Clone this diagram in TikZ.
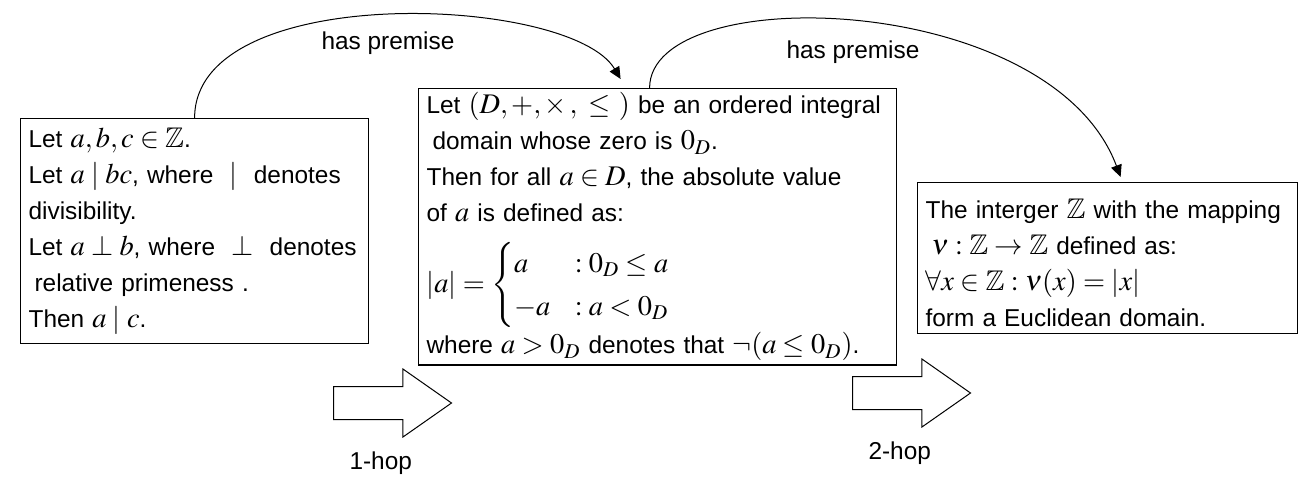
\documentclass[tikz,border=0pt]{standalone}
\usepackage{amsmath}
\usepackage{amssymb}
\usepackage{mathptmx}
\usepackage[no-math]{fontspec}
\setmainfont{Liberation Sans}
\usetikzlibrary{arrows.meta,positioning,shapes.arrows}
\DeclareMathSizes{12.2}{14.2}{10.5}{8}

\begin{document}
\begin{tikzpicture}[
  x=0.5pt, y=-0.5pt,
  box/.style={draw, line width=0.6pt, anchor=north west, align=left, font=\fontsize{12.2}{18}\selectfont, inner xsep=4pt, inner ysep=2pt},
  lab/.style={font=\fontsize{12.2}{14}\selectfont},
  arr/.style={-{Triangle[length=6pt, width=5.5pt]}, line width=0.5pt},
  hop/.style={draw, line width=0.5pt, single arrow, anchor=tail, single arrow head extend=8.75pt, single arrow tip angle=70, minimum height=59pt, inner xsep=0pt, inner ysep=8pt}]
  \useasboundingbox (0,0) rectangle (1314,484);
  % statements
  \node[box, text width=166pt, minimum height=112.5pt] (lemma) at (20,118) {Let $a,b,c \in \mathbb{Z}$.\\
    Let $a \mid bc$, where \ $\mid$ \ denotes\\
    divisibility.\\
    Let $a \perp b$, where \ $\perp$ \ denotes\\
    \hspace*{3pt}relative primeness .\\
    Then $a \mid c$.};
  \node[box, text width=231pt, minimum height=134pt] (absval) at (418,88) {Let $(D,+,\times\,,\ \leq\ )$ be an ordered integral\\
    \hspace*{3pt}domain whose zero is $0_D$.\\
    Then for all $a \in D$, the absolute value\\
    of $a$ is defined as:\\[9pt]
    $|a| = \begin{cases} a & : 0_D \leq a\\ -a & : a < 0_D \end{cases}$\\[1pt]
    where $a > 0_D$ denotes that $\neg(a \leq 0_D)$.};
  \node[box, text width=182pt, minimum height=75.5pt] (eucl) at (917,182) {\rule{0pt}{15pt}The interger $\mathbb{Z}$ with the mapping\\
    \hspace*{3pt}$\nu : \mathbb{Z} \to \mathbb{Z}$ defined as:\\
    $\forall x \in \mathbb{Z} : \nu(x) = |x|$\\
    form a Euclidean domain.};
  % premise links
  \draw[arr] (lemma.north) .. controls +(0,-138) and +(-50,-84) .. ([xshift=-18.5pt, yshift=4.5pt]absval.north);
  \draw[arr] ([xshift=-4pt]absval.north) .. controls +(0,-108) and +(-70,-187) .. ([xshift=6.5pt, yshift=2.5pt]eucl.north);
  \node[lab] (premA) at (388,43) {has premise};
  \node[lab] (premB) at (853,52) {has premise};
  % hops
  \node[hop] (hopA) at (333,403) {};
  \node[hop] (hopB) at (852,393) {};
  \node[lab, below=12.5pt of hopA] (hopAlab) {1-hop};
  \node[lab, below=12.5pt of hopB] (hopBlab) {2-hop};
\end{tikzpicture}
\end{document}
